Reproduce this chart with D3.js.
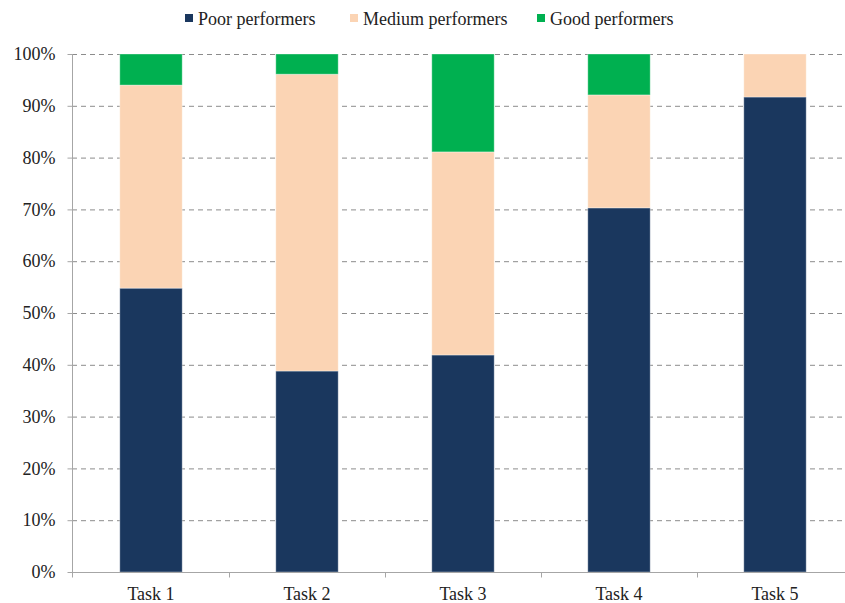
<!DOCTYPE html>
<html><head><meta charset="utf-8">
<script src="https://cdn.jsdelivr.net/npm/d3@7"></script>
<style>body{margin:0;background:#fff}svg{display:block}</style>
</head><body><svg id="c" width="845" height="603"></svg>
<script>
const categories = ["Task 1","Task 2","Task 3","Task 4","Task 5"];
const seriesNames = ["Poor performers","Medium performers","Good performers"];
const poor   = [54.8, 38.8, 41.9, 70.3, 91.7];
const medium = [39.2, 57.3, 39.2, 21.8, 8.3];
const good   = [6.0, 3.9, 18.9, 7.9, 0.0];
const yTicks = [0,10,20,30,40,50,60,70,80,90,100];
const colors = ["#1a375e","#fbd4b4","#00b050"];

const svg = d3.select("#c");
const font = "'Liberation Serif', serif";
const fs = "18px";
const x = d3.scaleBand().domain(categories).range([73,853]).paddingInner(0.6).paddingOuter(0.3);
const y = d3.scaleLinear().domain([0,100]).range([572,54]);

// grid
svg.append("g").selectAll("line").data(yTicks.filter(d=>d>0)).join("line")
  .attr("x1",72).attr("x2",853).attr("y1",d=>y(d)+0.5).attr("y2",d=>y(d)+0.5)
  .attr("stroke","#8c8c8c").attr("stroke-dasharray","5,4").attr("stroke-width",1);

const rows = categories.map((c,i)=>({cat:c, poor:poor[i], medium:medium[i], good:good[i]}));
const stack = d3.stack().keys(["poor","medium","good"])(rows);
svg.append("g").selectAll("g").data(stack).join("g").attr("fill",(d,i)=>colors[i])
  .selectAll("rect").data(d=>d).join("rect")
  .attr("x",d=>x(d.data.cat)).attr("width",x.bandwidth())
  .attr("y",d=>y(d[1])).attr("height",d=>y(d[0])-y(d[1]))
  .attr("stroke","rgba(255,255,255,0.35)").attr("stroke-width",1);

// y axis
const ya = svg.append("g").attr("transform","translate(72.5,0)")
  .call(d3.axisLeft(y).tickValues(yTicks).tickFormat(d=>d+"%").tickSize(5).tickPadding(12));
ya.select(".domain").attr("stroke","#a6a6a6").attr("d","M0,54V572.5");
ya.selectAll(".tick line").attr("stroke","#a6a6a6");
ya.selectAll("text").attr("font-family",font).attr("font-size",fs).attr("fill","#222");

// x axis
const xa = svg.append("g").attr("transform","translate(0,572.5)");
xa.append("line").attr("x1",72).attr("x2",853).attr("stroke","#a6a6a6");
const bounds = [72].concat(categories.map(c=>x(c)+x.bandwidth()/2+x.step()/2));
xa.selectAll("line.t").data(bounds).join("line").attr("class","t")
  .attr("x1",d=>Math.round(d)+0.5).attr("x2",d=>Math.round(d)+0.5).attr("y1",0).attr("y2",5).attr("stroke","#a6a6a6");
xa.selectAll("text").data(categories).join("text")
  .attr("x",d=>x(d)+x.bandwidth()/2).attr("y",27).attr("text-anchor","middle")
  .attr("font-family",font).attr("font-size",fs).attr("fill","#222").text(d=>d);

// legend
const legX = [185, 350, 537];
const lg = svg.append("g").selectAll("g").data(seriesNames).join("g")
  .attr("transform",(d,i)=>`translate(${legX[i]},0)`);
lg.append("rect").attr("x",0).attr("y",14).attr("width",8).attr("height",8).attr("fill",(d,i)=>colors[i]);
lg.append("text").attr("x",13).attr("y",25).attr("font-family",font).attr("font-size",fs).attr("fill","#222").text(d=>d);
</script></body></html>
